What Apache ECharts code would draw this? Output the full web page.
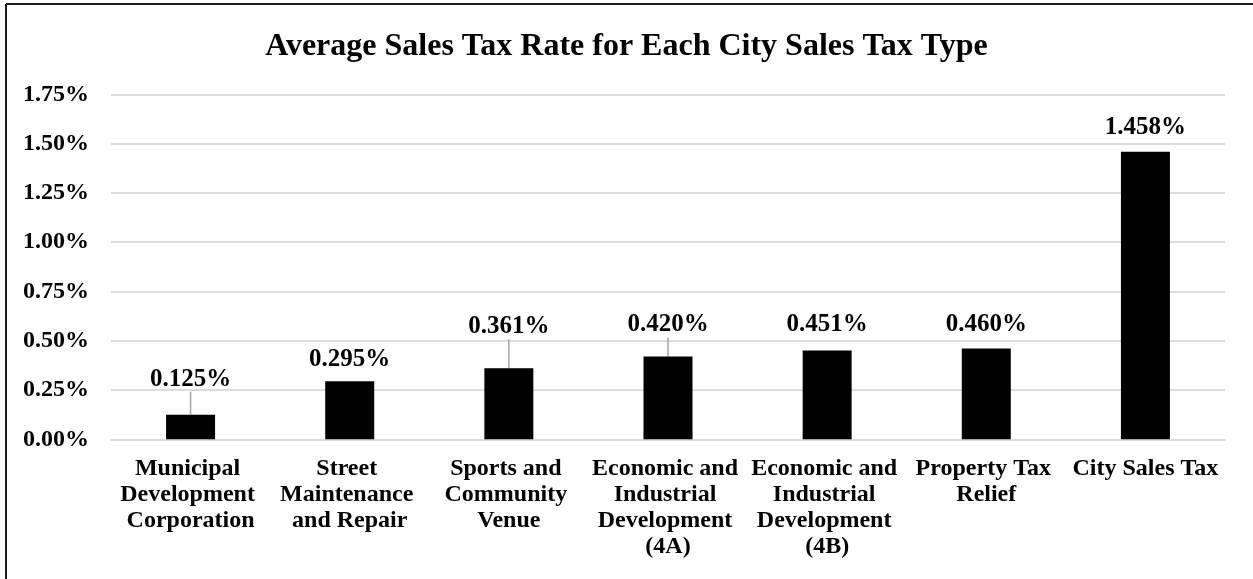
<!DOCTYPE html>
<html>
<head>
<meta charset="utf-8">
<script src="https://cdn.jsdelivr.net/npm/echarts@6/dist/echarts.min.js"></script>
<style>
html,body{margin:0;padding:0;background:#fff;}
#chart{width:1253px;height:579px;}
</style>
</head>
<body>
<div id="chart"></div>
<script>
// ---- data ----
const titleText = 'Average Sales Tax Rate for Each City Sales Tax Type';
const categories = [
  'Municipal Development Corporation',
  'Street Maintenance and Repair',
  'Sports and Community Venue',
  'Economic and Industrial Development (4A)',
  'Economic and Industrial Development (4B)',
  'Property Tax Relief',
  'City Sales Tax'
];
const rates = [0.125, 0.295, 0.361, 0.420, 0.451, 0.460, 1.458]; // percent
const yTicks = [0, 0.25, 0.5, 0.75, 1.0, 1.25, 1.5, 1.75];

// ---- label placement (style only) ----
const labelLift = [18, 4, 24, 14, 8, 6.5, 7];
const labelLeader = [true, false, true, true, false, false, false];

const FONT = '"Liberation Serif", "Times New Roman", serif';

const chart = echarts.init(document.getElementById('chart'), null, {renderer: 'canvas'});
chart.setOption({
  backgroundColor: '#ffffff',
  animation: false,
  title: {
    text: titleText,
    left: 'center',
    top: 26,
    textStyle: {fontFamily: FONT, fontWeight: 'bold', fontSize: 32, color: '#000'}
  },
  grid: {left: 111, right: 28, top: 94.3, bottom: 139.7, containLabel: false},
  xAxis: {
    type: 'category',
    data: categories,
    axisLine: {show: true, lineStyle: {color: '#d9d9d9', width: 1.5}},
    axisTick: {show: false},
    axisLabel: {
      interval: 0,
      margin: 16,
      fontFamily: FONT, fontWeight: 'bold', fontSize: 24, color: '#000',
      lineHeight: 26,
      width: 156,
      overflow: 'break'
    }
  },
  yAxis: {
    type: 'value',
    min: yTicks[0],
    max: yTicks[yTicks.length - 1],
    interval: yTicks[1] - yTicks[0],
    axisLine: {show: false},
    axisTick: {show: false},
    splitLine: {lineStyle: {color: '#d0d0d0', width: 1.5}},
    axisLabel: {
      margin: 22,
      fontFamily: FONT, fontWeight: 'bold', fontSize: 24, color: '#000',
      formatter: v => v.toFixed(2) + '%'
    }
  },
  series: [{
    type: 'bar',
    barWidth: 49,
    itemStyle: {color: '#000'},
    label: {
      show: true,
      position: 'top',
      distance: 5,
      fontFamily: FONT, fontWeight: 'bold', fontSize: 25, color: '#000',
      formatter: p => p.value.toFixed(3) + '%'
    },
    labelLayout: p => ({dy: -labelLift[p.dataIndex]}),
    labelLine: {show: false, lineStyle: {color: '#a6a6a6', width: 1.5}},
    data: rates.map((v, i) => ({
      value: v,
      labelLine: {show: labelLeader[i], lineStyle: {color: '#a6a6a6', width: 1.5}}
    }))
  }],
  graphic: [
    {type: 'line', silent: true, shape: {x1: 6, y1: 4, x2: 1253, y2: 4}, style: {stroke: '#1a1a1a', lineWidth: 2}},
    {type: 'line', silent: true, shape: {x1: 6, y1: 4, x2: 6, y2: 579}, style: {stroke: '#1a1a1a', lineWidth: 2}}
  ]
});
</script>
</body>
</html>
